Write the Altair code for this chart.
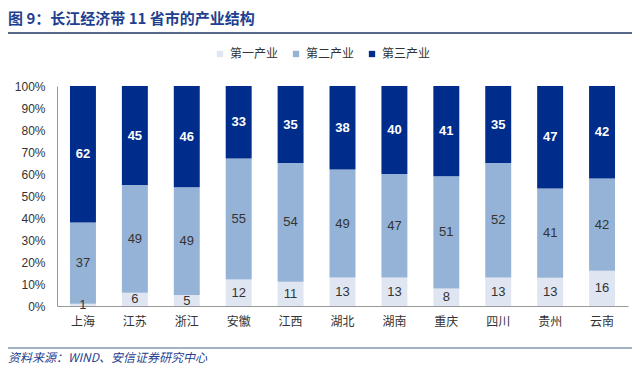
import altair as alt
import pandas as pd

provinces = ["上海", "江苏", "浙江", "安徽", "江西", "湖北", "湖南", "重庆", "四川", "贵州", "云南"]
series = ["第一产业", "第二产业", "第三产业"]
primary = [1, 6, 5, 12, 11, 13, 13, 8, 13, 13, 16]
secondary = [37, 49, 49, 55, 54, 49, 47, 51, 52, 41, 42]
tertiary = [62, 45, 46, 33, 35, 38, 40, 41, 35, 47, 42]
y_ticks = [0, 0.1, 0.2, 0.3, 0.4, 0.5, 0.6, 0.7, 0.8, 0.9, 1.0]
colors = ["#DFE6F2", "#95B3D7", "#002C8C"]
title_text = "图 9：长江经济带 11 省市的产业结构"
source_text = "资料来源：WIND、安信证券研究中心"

rows = []
for i, p in enumerate(provinces):
    for j, (s, vals) in enumerate(zip(series, [primary, secondary, tertiary])):
        rows.append({"province": p, "series": s, "ord": j, "value": vals[i]})
df = pd.DataFrame(rows)

FONT = "Liberation Sans, Arial, Noto Sans CJK SC"
W, H = 571, 220

base = alt.Chart(df).transform_joinaggregate(
    total="sum(value)", groupby=["province"]
).transform_calculate(
    pct="datum.value / datum.total"
).transform_stack(
    stack="pct", groupby=["province"], as_=["y0", "y1"],
    sort=[alt.SortField("ord", order="ascending")]
).transform_calculate(
    mid="(datum.y0 + datum.y1) / 2"
)

xaxis = alt.Axis(labelAngle=0, ticks=False, domainColor="#999999",
                 labelFontSize=12, labelColor="#333333", labelPadding=10,
                 labelFont=FONT)
xscale = alt.Scale(paddingInner=0.5, paddingOuter=0.25)
xenc = alt.X("province:N", sort=provinces, title=None, scale=xscale, axis=xaxis)

yaxis = alt.Axis(values=y_ticks, format=".0%", grid=False, ticks=False,
                 labelOverlap=False, domainColor="#999999", labelFontSize=12,
                 labelColor="#333333", labelPadding=12, labelFont=FONT)
yscale = alt.Scale(domain=[0, 1])

bars = base.mark_bar().encode(
    x=xenc,
    y=alt.Y("y0:Q", scale=yscale, title=None, axis=yaxis),
    y2="y1:Q",
    color=alt.Color("series:N", sort=series,
                    scale=alt.Scale(domain=series, range=colors),
                    legend=alt.Legend(title=None, orient="none", direction="horizontal",
                                      legendX=157, legendY=-38, symbolType="square",
                                      symbolSize=40, symbolStrokeWidth=0,
                                      labelFontSize=12, labelColor="#333333",
                                      labelFont=FONT, columnPadding=11, labelOffset=4)),
)

ymid = alt.Y("mid:Q", scale=yscale, title=None, axis=yaxis)

labels_dark = base.transform_filter("datum.ord < 2").mark_text(
    fontSize=13, color="#333333", font=FONT
).encode(x=xenc, y=ymid, text="value:Q")

labels_light = base.transform_filter("datum.ord == 2").mark_text(
    fontSize=13, color="white", fontWeight="bold", font=FONT
).encode(x=xenc, y=ymid, text="value:Q")

deco = pd.DataFrame({"t": [title_text], "s": [source_text]})
title = alt.Chart(deco).mark_text(
    align="left", baseline="middle", fontSize=15, fontWeight="bold",
    color="#1F3F8F", font="Noto Sans CJK SC"
).encode(x=alt.value(-49), y=alt.value(-67), text="t:N")
title_line = alt.Chart(deco).mark_rule(color="#1F3864", strokeWidth=1.5).encode(
    x=alt.value(-49), x2=alt.value(W + 4), y=alt.value(-53))
source = alt.Chart(deco).mark_text(
    align="left", baseline="middle", fontSize=12, fontStyle="italic",
    color="#1F3F8F", font="Noto Sans CJK SC"
).encode(x=alt.value(-49), y=alt.value(272), text="s:N")
source_line = alt.Chart(deco).mark_rule(color="#8497B0", strokeWidth=1.5).encode(
    x=alt.value(-49), x2=alt.value(W + 4), y=alt.value(262))

chart = alt.layer(bars, labels_dark, labels_light, title, title_line, source, source_line).properties(
    width=W, height=H,
    autosize=alt.AutoSizeParams(type="none"),
    padding={"left": 49, "top": 78, "right": 4, "bottom": 58},
).configure_view(stroke=None).resolve_scale(color="shared")

chart.save("out.html", embed_options={"renderer": "svg", "actions": False})
